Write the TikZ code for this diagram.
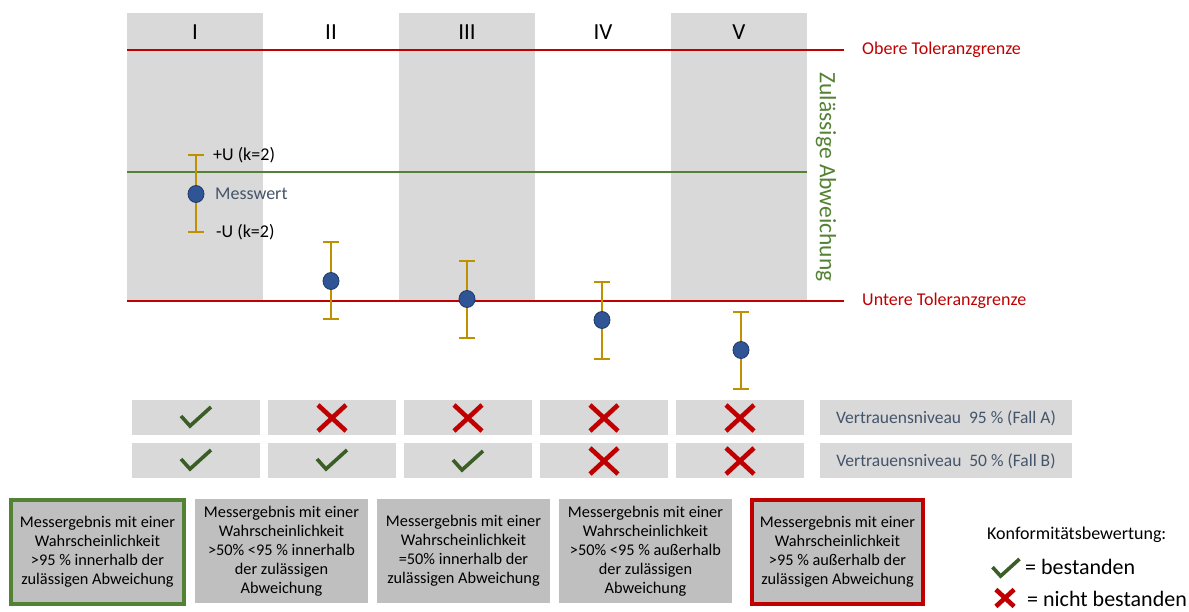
\documentclass[tikz,border=0pt]{standalone}
\usepackage{fontspec}
\setmainfont{Carlito}
\usetikzlibrary{shapes.geometric}
\definecolor{colgray}{HTML}{D9D9D9}
\definecolor{boxgray}{HTML}{BFBFBF}
\definecolor{tolred}{HTML}{C00000}
\definecolor{okgreen}{HTML}{548235}
\definecolor{chkgreen}{HTML}{3B5E26}
\definecolor{bargold}{HTML}{BF9000}
\definecolor{dotblue}{HTML}{2F5597}
\definecolor{dotedge}{HTML}{1F3864}
\definecolor{textblue}{HTML}{44546A}
\tikzset{
  colband/.style={fill=colgray, draw=none},
  roman/.style={font=\fontsize{23}{27}\selectfont, text=black, inner sep=0pt},
  tolline/.style={draw=tolred, line width=2.6pt},
  midline/.style={draw=okgreen, line width=2.6pt},
  tollabel/.style={font=\fontsize{18}{21}\selectfont, text=tolred, anchor=west, inner sep=0pt},
  errbar/.style={draw=bargold, line width=2.6pt},
  dotmark/.style={ellipse, minimum width=16pt, minimum height=17pt, inner sep=0pt, fill=dotblue, draw=dotedge, line width=0.8pt},
  smalllabel/.style={font=\fontsize{18}{21}\selectfont, anchor=west, inner sep=0pt},
  cell/.style={fill=colgray, draw=none},
  levellabel/.style={font=\fontsize{17.5}{20}\selectfont, text=textblue, inner sep=0pt},
  resultbox/.style={fill=boxgray, align=center, inner sep=0pt, text=black, font=\fontsize{16.3}{19}\selectfont},
  pics/chkmark/.style={code={\draw[chkgreen, line width=3.6pt] (-15,-1) -- (-6,9) -- (15,-10);}},
  pics/crossmark/.style={code={\draw[tolred, line width=4.6pt] (-14,-13) -- (14,13) (-14,13) -- (14,-13);}},
}
\begin{document}
\begin{tikzpicture}[x=1pt, y=-1pt]
\useasboundingbox[fill=white] (0,0) rectangle (1189,612);

% column bands
\fill[colband] (127,13) rectangle (263,300);
\fill[colband] (399,13) rectangle (535,300);
\fill[colband] (671,13) rectangle (807,300);

% roman numerals
\node[roman] (r1) at (195,32) {I};
\node[roman] (r2) at (331,32) {II};
\node[roman] (r3) at (467,32) {III};
\node[roman] (r4) at (603,32) {IV};
\node[roman] (r5) at (739,32) {V};

% tolerance lines
\coordinate (oL) at (127,50);
\coordinate (oR) at (844,50);
\coordinate (uL) at (127,301);
\coordinate (uR) at (844,301);
\coordinate (gL) at (127,172);
\coordinate (gR) at (807,172);
\draw[tolline] (oL) -- (oR);
\draw[tolline] (uL) -- (uR);
\draw[midline] (gL) -- (gR);
\node[tollabel] (obere) at (862,50) {Obere Toleranzgrenze};
\node[tollabel] (untere) at (862,301) {Untere Toleranzgrenze};
\node[font=\fontsize{23.5}{26}\selectfont, text=okgreen, rotate=-90, inner sep=0pt] (zul) at (826,177) {Zulässige Abweichung};

% error bars
\foreach \i/\x/\t/\m/\b in {1/196/155/194/232, 2/331/242/281/319, 3/467/261/299/338, 4/602/282/320/359, 5/741/312/350/389}{
  \coordinate (t\i) at (\x,\t);
  \coordinate (b\i) at (\x,\b);
  \coordinate (tl\i) at (\x-8,\t);
  \coordinate (tr\i) at (\x+8,\t);
  \coordinate (bl\i) at (\x-8,\b);
  \coordinate (br\i) at (\x+8,\b);
  \draw[errbar] (t\i) -- (b\i);
  \draw[errbar] (tl\i) -- (tr\i);
  \draw[errbar] (bl\i) -- (br\i);
  \node[dotmark] (m\i) at (\x,\m) {};
}
\node[smalllabel] (plusU) at (213,155) {+U (k=2)};
\node[smalllabel, text=textblue] (mw) at (215,194) {Messwert};
\node[smalllabel] (minusU) at (216,232) {-U (k=2)};

% result table
\foreach \i in {0,...,4}{
  \fill[cell] (132+136*\i,400) rectangle (260+136*\i,435);
  \fill[cell] (132+136*\i,443) rectangle (260+136*\i,478);
}
\fill[cell] (820,400) rectangle (1072,435);
\fill[cell] (820,443) rectangle (1072,478);
\node[levellabel] (lvA) at (946,418) {Vertrauensniveau~~95~\% (Fall~A)};
\node[levellabel] (lvB) at (946,461) {Vertrauensniveau~~50~\% (Fall~B)};

\pic at (196,417) {chkmark};
\pic at (332,418) {crossmark};
\pic at (468,418) {crossmark};
\pic at (604,418) {crossmark};
\pic at (740,418) {crossmark};
\pic at (196,460) {chkmark};
\pic at (332,460) {chkmark};
\pic at (468,461) {chkmark};
\pic at (604,461) {crossmark};
\pic at (740,461) {crossmark};

% bottom boxes
\node[resultbox, draw=okgreen, line width=4pt, minimum width=173pt, minimum height=104pt] (box1) at (97.5,552) {Messergebnis mit einer\\Wahrscheinlichkeit\\>95~\% innerhalb der\\zulässigen Abweichung};
\node[resultbox, minimum width=173pt, minimum height=104pt] (box2) at (281.5,551) {Messergebnis mit einer\\Wahrscheinlichkeit\\>50\% <95~\% innerhalb\\der zulässigen\\Abweichung};
\node[resultbox, minimum width=173pt, minimum height=104pt] (box3) at (463.5,551) {Messergebnis mit einer\\Wahrscheinlichkeit\\=50\% innerhalb der\\zulässigen Abweichung};
\node[resultbox, minimum width=173pt, minimum height=104pt] (box4) at (645.5,551) {Messergebnis mit einer\\Wahrscheinlichkeit\\>50\% <95~\% außerhalb\\der zulässigen\\Abweichung};
\node[resultbox, draw=tolred, line width=4pt, minimum width=171pt, minimum height=104pt] (box5) at (837.5,552) {Messergebnis mit einer\\Wahrscheinlichkeit\\>95~\% außerhalb der\\zulässigen Abweichung};

% legend
\node[font=\fontsize{18}{21}\selectfont, anchor=west, inner sep=0pt] (konf) at (987,535) {Konformitätsbewertung:};
\pic[scale=0.9] at (1006,568) {chkmark};
\node[font=\fontsize{22}{25}\selectfont, anchor=west, inner sep=0pt] (best) at (1025,567) {= bestanden};
\pic[scale=0.65] at (1005,598) {crossmark};
\node[font=\fontsize{22}{25}\selectfont, anchor=west, inner sep=0pt] (nbest) at (1027,599) {= nicht bestanden};
\end{tikzpicture}
\end{document}
